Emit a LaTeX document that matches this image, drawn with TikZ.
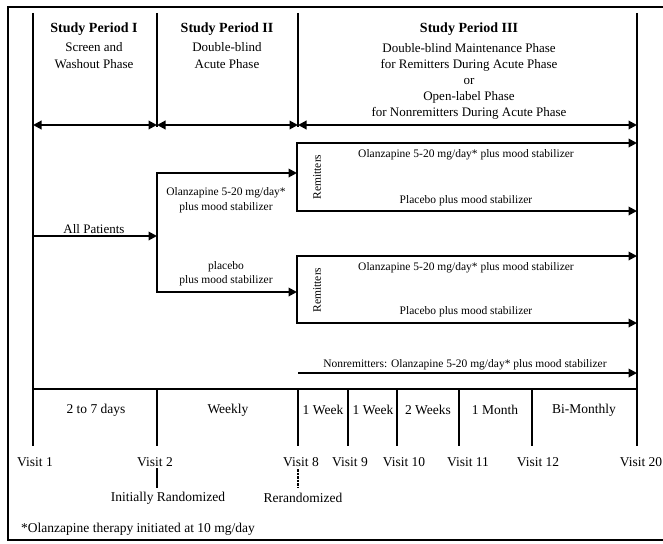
\documentclass[tikz,border=0pt]{standalone}
\usepackage{fontspec}
\setmainfont{Liberation Serif}
\usetikzlibrary{arrows.meta}
\begin{document}
\begin{tikzpicture}[x=1pt,y=-1pt,
  tip/.tip={Triangle[length=8.5pt,width=8.5pt]},
  heavy/.style={line width=2.2pt},
  flow/.style={line width=1.9pt,-tip},
  both/.style={line width=2pt,tip-tip},
  thinline/.style={line width=1.1pt},
  hdr/.style={font=\fontsize{14}{16}\selectfont\bfseries,inner sep=0pt},
  sub/.style={font=\fontsize{13}{15}\selectfont,inner sep=0pt},
  small/.style={font=\fontsize{11.5}{13.5}\selectfont,inner sep=0pt},
  lab/.style={font=\fontsize{13.5}{15}\selectfont,inner sep=0pt}]
\useasboundingbox (0,0) rectangle (663,543);
% frame
\coordinate (f1) at (663,7); \coordinate (f2) at (8,7);
\coordinate (f3) at (8,540); \coordinate (f4) at (663,540);
\draw[line width=1.6pt] (f1) -- (f2) -- (f3) -- (f4);
% main verticals
\coordinate (v1t) at (33,13);  \coordinate (v1b) at (33,446);
\coordinate (v2t) at (157,13); \coordinate (v2m) at (157,127);
\coordinate (v8t) at (298,13); \coordinate (v8m) at (298,127);
\coordinate (v20t) at (637,13); \coordinate (v20b) at (637,446);
\draw[heavy] (v1t) -- (v1b);
\draw[heavy] (v2t) -- (v2m);
\draw[heavy] (v8t) -- (v8m);
\draw[heavy] (v20t) -- (v20b);
% period arrows
\coordinate (a1) at (33,125); \coordinate (a2) at (157,125);
\coordinate (a3) at (298,125); \coordinate (a4) at (637,125);
\draw[both] (a1) -- (a2);
\draw[both] (a2) -- (a3);
\draw[both] (a3) -- (a4);
% headers
\node[hdr] (h1) at (94,29) {Study Period I};
\node[sub] (h1a) at (94,47) {Screen and};
\node[sub] (h1b) at (94,64) {Washout Phase};
\node[hdr] (h2) at (227,29) {Study Period II};
\node[sub] (h2a) at (227,47) {Double-blind};
\node[sub] (h2b) at (227,64) {Acute Phase};
\node[hdr] (h3) at (469,29) {Study Period III};
\node[sub] (h3a) at (469,48) {Double-blind Maintenance Phase};
\node[sub] (h3b) at (469,65) {for Remitters During Acute Phase};
\node[sub] (h3c) at (469,81) {or};
\node[sub] (h3d) at (469,97) {Open-label Phase};
\node[sub] (h3e) at (469,113) {for Nonremitters During Acute Phase};
% all patients
\coordinate (ap1) at (33,236); \coordinate (ap2) at (157,236);
\draw[flow] (ap1) -- (ap2);
\node[sub,anchor=south] (allp) at (94,234) {All Patients};
% acute branch
\coordinate (b1) at (157,173); \coordinate (b1e) at (297,173);
\coordinate (b2) at (157,292); \coordinate (b2e) at (297,292);
\draw[flow] (b2) -- (b1) -- (b1e);
\draw[flow] (b1) -- (b2) -- (b2e);
\node[small] (olz1) at (226,193) {Olanzapine 5-20 mg/day*};
\node[small] (olz1b) at (226,208) {plus mood stabilizer};
\node[small] (plc1) at (226,267) {placebo};
\node[small] (plc1b) at (226,281) {plus mood stabilizer};
% remitter boxes
\coordinate (r1t) at (297,143); \coordinate (r1te) at (637,143);
\coordinate (r1b) at (297,211); \coordinate (r1be) at (637,211);
\draw[flow] (r1b) -- (r1t) -- (r1te);
\draw[flow] (r1t) -- (r1b) -- (r1be);
\node[small,rotate=90] (rem1) at (317,177) {Remitters};
\node[small] (r1o) at (466,155) {Olanzapine 5-20 mg/day* plus mood stabilizer};
\node[small] (r1p) at (466,201) {Placebo plus mood stabilizer};
\coordinate (r2t) at (297,256); \coordinate (r2te) at (637,256);
\coordinate (r2b) at (297,323); \coordinate (r2be) at (637,323);
\draw[flow] (r2b) -- (r2t) -- (r2te);
\draw[flow] (r2t) -- (r2b) -- (r2be);
\node[small,rotate=90] (rem2) at (317,290) {Remitters};
\node[small] (r2o) at (466,268) {Olanzapine 5-20 mg/day* plus mood stabilizer};
\node[small] (r2p) at (466,312) {Placebo plus mood stabilizer};
% nonremitters
\coordinate (n1) at (298,373); \coordinate (n2) at (637,373);
\draw[flow] (n1) -- (n2);
\node[small,anchor=south] (nrm) at (465,370) {Nonremitters: Olanzapine 5-20 mg/day* plus mood stabilizer};
% timeline
\coordinate (s1) at (33,389); \coordinate (s2) at (637,389);
\draw[thinline] (s1) -- (s2);
\foreach \x/\n in {157/t2,298/t8}{
  \coordinate (\n a) at (\x,389); \coordinate (\n b) at (\x,446);
  \draw[heavy] (\n a) -- (\n b);}
\foreach \x/\n in {348/t9,397/t10,459/t11,532/t12}{
  \coordinate (\n a) at (\x,389); \coordinate (\n b) at (\x,446);
  \draw[thinline] (\n a) -- (\n b);}
\node[lab] (d1) at (96,410) {2 to 7 days};
\node[lab] (d2) at (228,410) {Weekly};
\node[lab] (d3) at (323,410) {1 Week};
\node[lab] (d4) at (373,410) {1 Week};
\node[lab] (d5) at (428,410) {2 Weeks};
\node[lab] (d6) at (495,410) {1 Month};
\node[lab] (d7) at (584,410) {Bi-Monthly};
\node[lab] (vis1) at (35,462) {Visit 1};
\node[lab] (vis2) at (155,462) {Visit 2};
\node[lab] (vis8) at (301,462) {Visit 8};
\node[lab] (vis9) at (350,462) {Visit 9};
\node[lab] (vis10) at (404,462) {Visit 10};
\node[lab] (vis11) at (468,462) {Visit 11};
\node[lab] (vis12) at (538,462) {Visit 12};
\node[lab] (vis20) at (641,462) {Visit 20};
\coordinate (ir1) at (157,468); \coordinate (ir2) at (157,488);
\draw[heavy] (ir1) -- (ir2);
\coordinate (rr1) at (298,469); \coordinate (rr2) at (298,488);
\draw[line width=2.2pt,dash pattern=on 2.5pt off 1pt] (rr1) -- (rr2);
\node[lab] (initr) at (168,498) {Initially Randomized};
\node[lab] (rerand) at (303,498) {Rerandomized};
\node[lab,anchor=west] (fn) at (21,529) {*Olanzapine therapy initiated at 10 mg/day};
\end{tikzpicture}
\end{document}
